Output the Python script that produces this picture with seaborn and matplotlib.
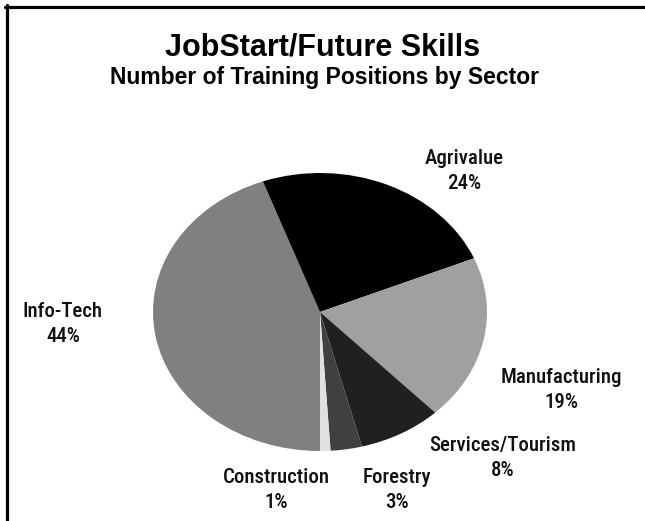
import matplotlib
matplotlib.use("Agg")
import matplotlib.pyplot as plt
from matplotlib.lines import Line2D
import seaborn as sns

# Training positions by sector (percent of total)
sectors = ["Info-Tech", "Agrivalue", "Manufacturing", "Services/Tourism", "Forestry", "Construction"]
shares = [44, 24, 19, 8, 3, 1]
pct_labels = ["44%", "24%", "19%", "8%", "3%", "1%"]
greys = ["#808080", "#000000", "#a0a0a0", "#202020", "#404040", "#e0e0e0"]

sns.set_theme(style="white")
plt.rcParams["font.family"] = ["Liberation Sans", "DejaVu Sans"]

W, H = 645, 521
fig = plt.figure(figsize=(W / 100, H / 100), dpi=100)
fig.patch.set_facecolor("white")

# Axes span the whole figure; limits chosen so the unit pie renders as a flattened ellipse
cx, cy, rx, ry = 320, 312, 167, 139
ax = fig.add_axes([0, 0, 1, 1])
ax.pie(shares, colors=greys, startangle=-90, counterclock=False,
       radius=1.0, center=(0, 0), frame=False,
       wedgeprops=dict(linewidth=0))
ax.set_xlim(-cx / rx, (W - cx) / rx)
ax.set_ylim(-(H - cy) / ry, cy / ry)
ax.set_aspect("auto")
ax.axis("off")

label_font = ["Roboto Condensed", "Liberation Sans Narrow", "DejaVu Sans"]

# Label anchors in pixel space: centre x, baseline y of the sector name (y from top)
label_pos = [(63, 317), (464, 164), (561, 383), (503, 451), (397, 483), (276, 483)]
line_gap = 25
for name, pct, (px, py) in zip(sectors, pct_labels, label_pos):
    for k, s in enumerate((name, pct)):
        fig.text(px / W, 1 - (py + k * line_gap) / H, s, ha="center", va="baseline",
                 family=label_font, fontweight="medium", fontsize=15, color="#111111")

fig.text(323 / W, 1 - 55 / H, "JobStart/Future Skills", ha="center", va="baseline",
         fontsize=22, fontweight="bold", color="black")
fig.text(325 / W, 1 - 84 / H, "Number of Training Positions by Sector", ha="center",
         va="baseline", fontsize=16.5, fontweight="bold", color="black")

# Frame: top and left rules only
fig.add_artist(Line2D([5 / W, 1], [1 - 6.5 / H, 1 - 6.5 / H], color="black", lw=2.3,
                      transform=fig.transFigure))
fig.add_artist(Line2D([6.5 / W, 6.5 / W], [0, 1 - 5 / H], color="black", lw=2.3,
                      transform=fig.transFigure))

fig.savefig("out.png", dpi=100, facecolor="white")
